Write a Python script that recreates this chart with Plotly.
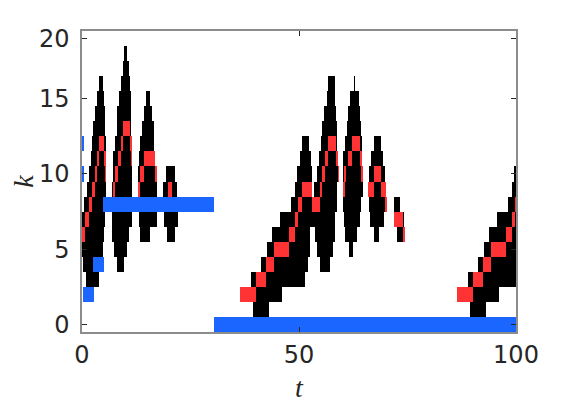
import plotly.graph_objects as go

# ---- data (k = row, t0/t1 = start/end time of each cell) ----
black_k = [16, 15, 14, 13, 12, 11, 10, 9, 8, 7, 6, 5, 4, 3,
           18, 17, 16, 15, 14, 13, 12, 11, 10, 9, 8, 7, 6, 5, 4,
           15, 14, 13, 12, 11, 10, 9, 8, 7, 6,
           10, 9, 8, 7, 6,
           1, 2, 3, 4, 4, 5, 5, 6, 6, 7, 8, 9, 9, 10, 10, 11, 11, 12, 12, 13, 14, 15, 16,
           16, 15, 14, 13, 12, 11, 10, 9, 8, 7, 6, 5,
           12, 11, 10, 9, 8, 7, 6,
           8, 7, 6,
           1, 2, 3, 4, 5, 6, 7, 8, 9, 10]
black_t0 = [3.9, 3.5, 3.0, 2.5, 2.3, 2.1, 1.6, 1.15, 0.46, 0.0, 0.0, 0.0, 0.2, 0.9,
            9.6, 9.4, 9.0, 8.5, 8.1, 8.1, 7.6, 7.1, 7.1, 6.9, 6.9, 6.9, 6.9, 7.4, 8.1,
            14.7, 14.3, 13.8, 13.4, 13.1, 12.9, 12.9, 13.1, 13.1, 13.4,
            19.4, 18.7, 18.9, 18.9, 19.6,
            39.4, 40.1, 39.0, 41.2, 54.8, 42.6, 54.1, 43.8, 53.7, 45.6, 48.2, 49.1, 53.5, 49.5, 54.1, 50.2, 54.6, 50.7, 55.05, 55.3, 55.8, 56.4, 56.7,
            62.7, 61.8, 61.3, 61.1, 60.6, 60.1, 60.1, 60.1, 60.1, 60.4, 60.6, 61.5,
            67.3, 66.6, 66.1, 65.9, 66.1, 66.4, 67.3,
            71.9, 71.9, 72.6,
            89.4, 90.1, 88.9, 91.2, 92.6, 93.8, 95.6, 98.2, 99.1, 99.5]
black_t1 = [4.8, 5.1, 5.3, 5.3, 5.5, 5.5, 5.5, 5.5, 5.0, 5.3, 5.1, 4.8, 5.0, 3.9,
            10.4, 10.75, 11.0, 11.2, 11.4, 11.4, 11.4, 11.45, 11.45, 11.45, 11.45, 11.45, 10.75, 10.3, 9.7,
            15.7, 16.1, 16.6, 16.6, 16.8, 17.3, 17.3, 17.3, 17.3, 15.7,
            21.4, 21.9, 22.1, 22.1, 21.4,
            43.1, 46.1, 51.4, 52.1, 57.1, 52.5, 57.8, 52.5, 58.3, 58.3, 58.8, 53.0, 58.8, 53.0, 59.2, 52.8, 59.0, 52.3, 58.8, 58.8, 58.5, 58.3, 58.3,
            62.9, 63.8, 64.1, 64.3, 64.5, 64.5, 64.7, 64.7, 64.3, 64.1, 63.4, 62.4,
            68.9, 69.4, 69.8, 70.0, 70.0, 69.6, 68.4,
            73.3, 74.1, 74.0,
            93.1, 96.1, 100, 100, 100, 100, 100, 100, 100, 100]

red_k = [6, 7, 8, 9, 10, 11, 12, 11, 10,
         9, 10, 11, 12, 13, 12, 11,
         9, 10, 11, 10,
         9,
         2, 3, 4, 5, 6, 7, 8, 9, 8, 9, 10, 11, 12, 11, 10,
         9, 10, 11, 12, 11, 10,
         9, 10, 9, 8,
         7, 6,
         2, 3, 4, 5, 6, 7, 8]
red_t0 = [0.0, 0.7, 1.6, 2.3, 3.0, 3.5, 3.9, 5.1, 5.35,
          7.1, 7.6, 8.3, 8.9, 9.4, 11.1, 11.3,
          12.9, 13.4, 14.3, 16.8,
          19.8,
          36.4, 40.1, 42.4, 44.2, 47.7, 49.1, 49.8, 50.7, 53.0, 54.8, 55.3, 56.0, 56.7, 58.5, 59.0,
          60.1, 60.5, 61.3, 62.2, 64.1, 64.5,
          65.9, 67.3, 68.9, 70.0,
          71.9, 74.0,
          86.4, 90.1, 92.4, 94.2, 97.7, 99.1, 99.8]
red_t1 = [0.7, 1.6, 2.3, 3.0, 3.5, 3.9, 5.1, 5.35, 5.5,
          7.6, 8.3, 8.9, 9.4, 11.1, 11.3, 11.45,
          13.4, 14.3, 16.8, 17.3,
          20.7,
          40.1, 42.4, 44.2, 47.7, 49.1, 49.8, 50.7, 53.0, 54.8, 55.3, 56.0, 56.7, 58.5, 59.0, 59.2,
          60.6, 60.7, 62.2, 64.1, 64.5, 64.7,
          67.3, 68.9, 70.0, 70.2,
          73.9, 74.4,
          90.1, 92.4, 94.2, 97.7, 99.1, 99.8, 100]

blue_k = [12, 10, 2, 4, 8, 0]
blue_t0 = [0.0, 0.0, 0.23, 2.5, 4.84, 30.4]
blue_t1 = [0.25, 0.45, 2.76, 5.07, 30.4, 100]

x_ticks = [0, 50, 100]
y_tick_pos = [0, 5, 10, 15, 19]
y_tick_text = ["0", "5", "10", "15", "20"]


def cells(k, t0, t1, color):
    return go.Bar(orientation="h", y=k, base=t0,
                  x=[b - a for a, b in zip(t0, t1)],
                  width=1.0, marker=dict(color=color, line=dict(width=0)),
                  showlegend=False, hoverinfo="skip")


fig = go.Figure()
fig.add_trace(cells(black_k, black_t0, black_t1, "#000000"))
fig.add_trace(cells(red_k, red_t0, red_t1, "#FF3333"))
fig.add_trace(cells(blue_k, blue_t0, blue_t1, "#1A66FF"))

axis_common = dict(showline=True, linecolor="#8C8C8C", linewidth=1.5, mirror="ticks",
                   ticks="inside", ticklen=5, tickwidth=1, tickcolor="#262626",
                   showgrid=False, zeroline=False, automargin=False,
                   tickfont=dict(family="DejaVu Sans", size=24, color="#262626"))

# the page body adds an 8 px offset, so the figure is 8 px smaller on each axis
fig.update_layout(
    width=562, height=400,
    margin=dict(l=74, r=54, t=23, b=76),
    paper_bgcolor="white", plot_bgcolor="white",
    barmode="overlay", bargap=0,
    xaxis=dict(range=[0, 100], tickvals=x_ticks,
               title=dict(text="t", standoff=10,
                          font=dict(family="Liberation Serif", size=28, style="italic", color="#262626")),
               **axis_common),
    yaxis=dict(range=[-0.5, 19.5], tickvals=y_tick_pos, ticktext=y_tick_text,
               ticklabelstandoff=6,
               title=dict(text="k", standoff=20,
                          font=dict(family="Liberation Serif", size=28, style="italic", color="#262626")),
               **axis_common),
)

fig.write_html("out.html")
